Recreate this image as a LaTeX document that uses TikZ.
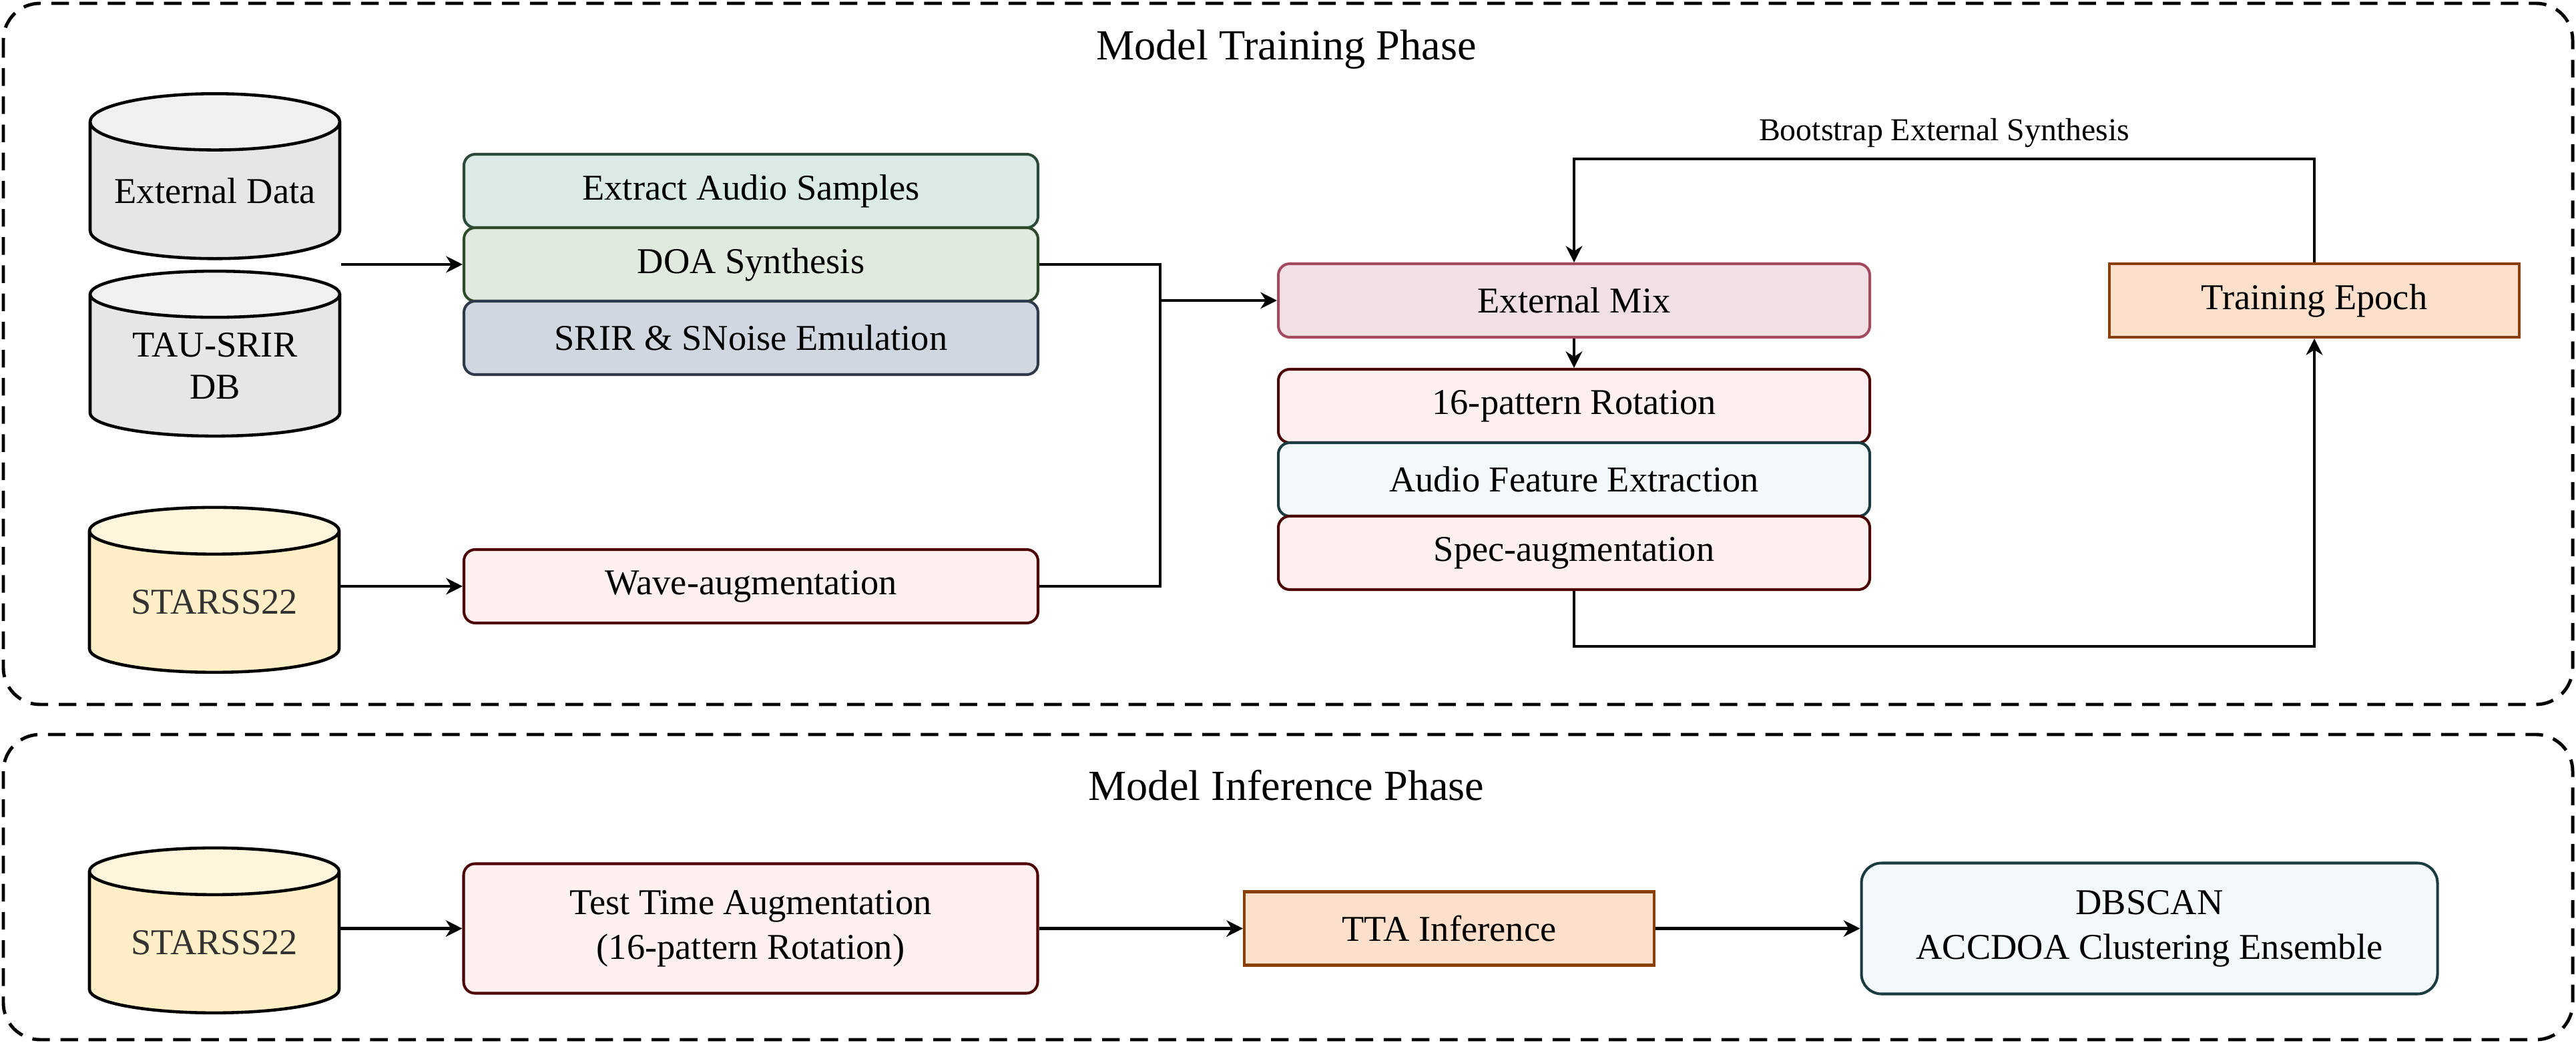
\documentclass[tikz,border=0pt]{standalone}
\usepackage{fontspec}
\setmainfont{Liberation Serif}
\usetikzlibrary{shapes.geometric, arrows.meta}

\definecolor{greyBody}{HTML}{E6E6E6}
\definecolor{greyTop}{HTML}{F0F0F0}
\definecolor{sandBody}{HTML}{FFEEC6}
\definecolor{sandTop}{HTML}{FFF4DC}
\definecolor{mintFill}{HTML}{DAEAE6}
\definecolor{mintLine}{HTML}{2C4A3C}
\definecolor{sageFill}{HTML}{E0EADE}
\definecolor{sageLine}{HTML}{2F4A2A}
\definecolor{slateFill}{HTML}{D0D7E1}
\definecolor{slateLine}{HTML}{2E3A4A}
\definecolor{roseFill}{HTML}{FFF0F0}
\definecolor{roseLine}{HTML}{4D0000}
\definecolor{mauveFill}{HTML}{F0E0E4}
\definecolor{mauveLine}{HTML}{A34A5E}
\definecolor{iceFill}{HTML}{F3F8FB}
\definecolor{iceLine}{HTML}{1A3C40}
\definecolor{peachFill}{HTML}{FCE0CC}
\definecolor{peachLine}{HTML}{8A3E08}

\tikzstyle{database} = [
    cylinder,
    shape border rotate=90,
    aspect=0.28,
    minimum width=3.74cm,
    minimum height=2.47cm,
    inner sep=0pt,
    align=center,
    draw=black,
    line width=1.3pt,
    cylinder uses custom fill,
    font=\fontsize{15.5}{18}\selectfont
]
\tikzstyle{greybase} = [
    database,
    cylinder body fill=greyBody,
    cylinder end fill=greyTop
]
\tikzstyle{sandbase} = [
    database,
    cylinder body fill=sandBody,
    cylinder end fill=sandTop,
    text=black!80
]
\tikzstyle{stage} = [
    rectangle,
    rounded corners=0.17cm,
    minimum width=8.6cm,
    minimum height=1.1cm,
    inner sep=0pt,
    text centered,
    align=center,
    line width=1.15pt,
    font=\fontsize{15.5}{19}\selectfont
]
\tikzstyle{mint} = [stage, fill=mintFill, draw=mintLine]
\tikzstyle{sage} = [stage, fill=sageFill, draw=sageLine]
\tikzstyle{slate} = [stage, fill=slateFill, draw=slateLine]
\tikzstyle{rose} = [stage, fill=roseFill, draw=roseLine]
\tikzstyle{mauve} = [stage, fill=mauveFill, draw=mauveLine]
\tikzstyle{ice} = [stage, fill=iceFill, draw=iceLine]
\tikzstyle{peach} = [
    stage,
    sharp corners,
    minimum width=6.14cm,
    fill=peachFill,
    draw=peachLine
]
\tikzstyle{phase} = [
    draw=black,
    line width=1.4pt,
    dash pattern=on 7.5pt off 4.5pt,
    rounded corners=0.55cm
]
\tikzstyle{line} = [
    line width=1.35pt
]
\tikzstyle{arrow} = [
    line width=1.35pt,
    -{Stealth[length=7pt, width=7pt, inset=2.2pt]}
]

\begin{document}
\begin{tikzpicture}[node distance=1.1cm]
        \useasboundingbox (0,0) rectangle (38.59,-15.62);

        % phase frames
        \draw[phase] (0.05,-0.05) rectangle (38.54,-10.55);
        \draw[phase] (0.05,-11.0) rectangle (38.54,-15.57);
        \node (traintitle) at (19.27,-0.74) {\fontsize{18.3}{22}\selectfont Model Training Phase};
        \node (infertitle) at (19.27,-11.76) {\fontsize{18.3}{22}\selectfont Model Inference Phase};

        % training phase
        \node (extdata) [greybase] at (3.22,-2.86) {External Data};
        \node (tausrir) [greybase] at (3.22,-5.48) {TAU-SRIR\\DB};
        \node (starss) [sandbase] at (3.21,-9.02) {STARSS22};

        \node (extract) [mint] at (11.25,-2.86) {Extract Audio Samples};
        \node (doa) [sage, below of=extract] {DOA Synthesis};
        \node (srir) [slate, below of=doa] {SRIR \& SNoise Emulation};
        \node (wave) [rose] at (11.25,-8.78) {Wave-augmentation};

        \node (extmix) [mauve, minimum width=8.86cm] at (23.58,-4.5) {External Mix};
        \node (rot16) [rose, minimum width=8.86cm] at (23.58,-6.08) {16-pattern Rotation};
        \node (featext) [ice, minimum width=8.86cm, below of=rot16] {Audio Feature Extraction};
        \node (specaug) [rose, minimum width=8.86cm, below of=featext] {Spec-augmentation};
        \node (epoch) [peach] at (34.67,-4.5) {Training Epoch};

        \coordinate (join) at (17.38,-4.5);

        \draw[arrow] (extdata.east |- doa.west) -- (doa.west);
        \draw[arrow] (starss.east |- wave.west) -- (wave.west);
        \draw[line] (doa.east) -| (join);
        \draw[line] (wave.east) -| (join);
        \draw[arrow] (join) -- (extmix.west);
        \draw[arrow] (extmix) -- (rot16);
        \draw[arrow] (specaug.south) -- ++(0,-0.83) -| (epoch.south);
        \draw[arrow] (epoch.north) -- ++(0,1.55) -| node[pos=0.25, above=1pt, font=\fontsize{13.6}{16}\selectfont] {Bootstrap External Synthesis} (extmix.north);

        % inference phase
        \node (starsstest) [sandbase] at (3.21,-14.12) {STARSS22};
        \node (tta) [rose, minimum height=1.94cm] at (11.245,-13.905) {Test Time Augmentation\\(16-pattern Rotation)};
        \node (ttainf) [peach] at (21.71,-13.905) {TTA Inference};
        \node (dbscan) [ice, rounded corners=0.3cm, minimum width=8.63cm, minimum height=1.96cm] at (32.2,-13.905) {DBSCAN\\ACCDOA Clustering Ensemble};

        \draw[arrow] (starsstest.east |- tta.west) -- (tta.west);
        \draw[arrow] (tta) -- (ttainf);
        \draw[arrow] (ttainf) -- (dbscan);
    \end{tikzpicture}
\end{document}
